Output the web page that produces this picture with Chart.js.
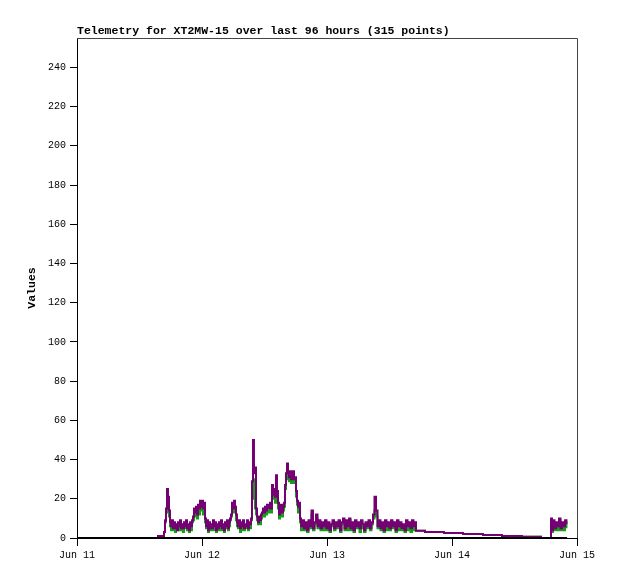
<!DOCTYPE html>
<html>
<head>
<meta charset="utf-8">
<title>Telemetry XT2MW-15</title>
<script src="https://cdn.jsdelivr.net/npm/chart.js@4.4.1/dist/chart.umd.min.js"></script>
<style>
  html, body { margin: 0; padding: 0; background: #fff; }
  #wrap { width: 618px; height: 579px; }
</style>
</head>
<body>
<div id="wrap"><canvas id="telemetry" width="618" height="579"></canvas></div>
<script>
// hours since Jun 11 00:00
const hours = [
    15.36, 16.51, 16.70, 16.90, 17.09, 17.28, 17.47, 17.66, 17.86,
    18.05, 18.24, 18.43, 18.62, 18.82, 19.01, 19.20, 19.39, 19.58, 19.78, 19.97,
    20.16, 20.35, 20.54, 20.74, 20.93, 21.12, 21.31, 21.50, 21.70, 21.89, 22.08,
    22.27, 22.46, 22.66, 22.85, 23.04, 23.23, 23.42, 23.62, 23.81, 24.00, 24.19, 24.38, 24.58,
    24.77, 24.96, 25.15, 25.34, 25.54, 25.73, 25.92, 26.11, 26.30, 26.50, 26.69, 26.88,
    27.07, 27.26, 27.46, 27.65, 27.84, 28.03, 28.22, 28.42, 28.61, 28.80, 28.99, 29.18, 29.38,
    29.57, 29.76, 29.95, 30.14, 30.34, 30.53, 30.72,
    30.91, 31.10, 31.30, 31.49, 31.68, 31.87, 32.06, 32.26, 32.45, 32.64, 32.83, 33.02, 33.22, 33.41,
    33.60, 33.79, 33.98, 34.18, 34.37, 34.56, 34.75, 34.94, 35.14, 35.33, 35.52, 35.71, 35.90,
    36.10, 36.29, 36.48, 36.67, 36.86, 37.06, 37.25, 37.44, 37.63, 37.82, 38.02, 38.21, 38.40,
    38.59, 38.78, 38.98, 39.17, 39.36, 39.55, 39.74, 39.94, 40.13, 40.32, 40.51, 40.70, 40.90,
    41.09, 41.28, 41.47, 41.66, 41.86, 42.05, 42.24, 42.43, 42.62, 42.82,
    43.01, 43.30, 43.58, 43.87, 44.16, 44.45, 44.74, 45.02, 45.31, 45.60, 45.89, 46.18, 46.46,
    46.75, 47.04, 47.33, 47.62, 47.90, 48.19, 48.48, 48.77, 49.06, 49.34, 49.63, 49.92, 50.21,
    50.50, 50.78, 51.07, 51.36, 51.65, 51.94, 52.22, 52.51, 52.80, 53.09, 53.38, 53.66, 53.95,
    54.24, 54.53, 54.82, 55.10, 55.39, 55.68, 55.97, 56.26, 56.54, 56.83, 57.12, 57.41, 57.70,
    57.98, 58.27, 58.56, 58.85, 59.14, 59.42, 59.71, 60.00, 60.29, 60.58, 60.86, 61.15, 61.44,
    61.73, 62.02, 62.30, 62.59, 62.88, 63.17, 63.46, 63.74, 64.03, 64.32, 64.61, 64.90,
    65.09, 66.82, 70.46, 74.11, 77.95, 81.60, 85.44, 89.09, 90.82,
    91.01, 91.20, 91.39, 91.68, 91.97, 92.26, 92.54, 92.83, 93.12, 93.41, 93.70, 93.98
];

const purpleValues = [
    1, 1, 3, 9, 15, 25, 21, 14, 8,
    6, 9, 5, 8, 5, 7, 4, 8, 6, 9, 5,
    7, 5, 8, 6, 9, 5, 7, 4, 8, 6, 9,
    11, 15, 13, 16, 12, 17, 15, 19, 16, 19, 15, 18, 10,
    6, 9, 4, 8, 5, 7, 5, 9, 6, 8, 4, 7,
    5, 8, 6, 9, 5, 7, 4, 8, 6, 9, 5, 8, 10,
    12, 18, 15, 19, 16, 12, 8,
    6, 9, 5, 8, 6, 9, 5, 7, 6, 9, 5, 8, 7, 10,
    29, 50, 33, 36, 15, 11, 8, 11, 9, 12, 13, 15, 13,
    16, 14, 17, 15, 16, 18, 15, 27, 22, 25, 21, 32, 24,
    18, 12, 15, 17, 13, 16, 18, 27, 33, 38, 33, 31, 34,
    30, 33, 34, 30, 31, 24, 19, 16, 18, 10,
    6, 9, 5, 8, 4, 9, 6, 14, 5, 8, 12, 6, 9,
    5, 8, 6, 9, 5, 8, 4, 7, 9, 5, 8, 6, 9,
    4, 8, 10, 5, 9, 6, 10, 5, 8, 4, 9, 6, 8,
    5, 9, 7, 4, 8, 6, 9, 5, 8, 12, 21, 14, 6,
    9, 5, 8, 4, 9, 6, 8, 5, 9, 6, 8, 4, 9,
    6, 8, 5, 7, 4, 9, 6, 8, 5, 9, 6, 8,
    3.7, 3.1, 2.5, 2.0, 1.5, 1.0, 0.7, 0, 0,
    10, 4, 9, 5, 8, 6, 10, 5, 8, 6, 9, 7
];

const greenValues = [
    1, 1, 3, 8, 13, 22, 18, 11, 6,
    4, 8, 4, 7, 3, 6, 4, 6, 4, 7, 4,
    6, 3, 6, 5, 8, 4, 5, 3, 7, 4, 8,
    9, 13, 11, 14, 10, 15, 12, 17, 14, 17, 12, 16, 8,
    5, 7, 3, 7, 4, 5, 4, 8, 4, 7, 3, 6,
    4, 7, 4, 8, 4, 6, 3, 7, 5, 7, 4, 6, 9,
    11, 16, 13, 17, 14, 9, 6,
    5, 7, 3, 7, 4, 8, 4, 6, 5, 8, 4, 7, 5, 9,
    26, 30, 20, 15, 12, 9, 7, 9, 7, 10, 11, 13, 11,
    14, 12, 14, 13, 14, 16, 13, 24, 20, 22, 18, 29, 22,
    15, 10, 13, 15, 11, 14, 16, 25, 31, 34, 30, 29, 31,
    28, 30, 32, 28, 28, 21, 17, 13, 15, 8,
    4, 8, 4, 7, 3, 7, 5, 12, 4, 7, 10, 5, 8,
    4, 7, 4, 8, 4, 6, 3, 6, 8, 4, 6, 5, 8,
    3, 7, 8, 4, 8, 4, 9, 4, 7, 3, 7, 5, 7,
    3, 8, 5, 3, 7, 5, 7, 4, 7, 10, 14, 11, 5,
    7, 4, 7, 3, 8, 4, 7, 4, 8, 5, 6, 3, 8,
    4, 7, 4, 6, 3, 8, 4, 7, 3, 8, 4, 6,
    3.7, 3.1, 2.5, 2.0, 1.5, 1.0, 0.7, 0, 0,
    8, 3, 8, 4, 6, 4, 9, 4, 7, 4, 8, 5
];

const baselineHours = [0, 94.1];
const baselineValues = [0, 0];

const xTickLabels = { 0: 'Jun 11', 24: 'Jun 12', 48: 'Jun 13', 72: 'Jun 14', 96: 'Jun 15' };
const titleText = 'Telemetry for XT2MW-15 over last 96 hours (315 points)';
const yTitleText = 'Values';

const toPoints = (xs, ys) => xs.map((x, i) => ({ x: x, y: ys[i] }));

const MONO = '"Liberation Mono", "DejaVu Sans Mono", monospace';

// gnuplot-ish frame and labels
const framePlugin = {
    id: 'frame',
    afterDraw(chart) {
        const { ctx, chartArea: a } = chart;
        ctx.save();
        ctx.strokeStyle = '#444';
        ctx.lineWidth = 1;
        ctx.beginPath();
        ctx.moveTo(a.left, a.top + 0.5);
        ctx.lineTo(a.right + 0.5, a.top + 0.5);
        ctx.lineTo(a.right + 0.5, a.bottom);
        ctx.stroke();

        ctx.fillStyle = '#000';
        ctx.font = 'bold 11.5px ' + MONO;
        ctx.textAlign = 'left';
        ctx.textBaseline = 'alphabetic';
        ctx.fillText(titleText, a.left, a.top - 4);

        ctx.translate(32, (a.top + a.bottom) / 2);
        ctx.rotate(-Math.PI / 2);
        ctx.textAlign = 'center';
        ctx.textBaseline = 'middle';
        ctx.fillText(yTitleText, 0, 0);
        ctx.restore();
    }
};

new Chart(document.getElementById('telemetry'), {
    type: 'line',
    data: {
        datasets: [
            {
                label: 'zero',
                data: toPoints(baselineHours, baselineValues),
                borderColor: '#000',
                borderWidth: 2,
                pointRadius: 0,
                order: 0
            },
            {
                label: 'max',
                data: toPoints(hours, purpleValues),
                borderColor: '#740074',
                borderWidth: 2,
                pointRadius: 0,
                stepped: 'before',
                order: 1
            },
            {
                label: 'avg',
                data: toPoints(hours, greenValues),
                borderColor: '#12a012',
                borderWidth: 2,
                pointRadius: 0,
                stepped: 'before',
                order: 2
            }
        ]
    },
    options: {
        responsive: false,
        animation: false,
        events: [],
        layout: { padding: { left: 0, right: 41, top: 38, bottom: 0 } },
        plugins: {
            legend: { display: false },
            title: { display: false },
            tooltip: { enabled: false }
        },
        scales: {
            x: {
                type: 'linear',
                min: 0,
                max: 96,
                afterFit: function (s) { s.height = 41; },
                border: { display: true, color: '#000', width: 1 },
                grid: { drawOnChartArea: false, drawTicks: true, tickLength: 8, tickColor: '#000' },
                ticks: {
                    stepSize: 24,
                    maxRotation: 0,
                    padding: 3,
                    color: '#000',
                    font: { family: MONO, size: 10 },
                    callback: function (v) { return xTickLabels[v] || ''; }
                }
            },
            y: {
                min: 0,
                max: 255,
                afterFit: function (s) { s.width = 77; },
                border: { display: true, color: '#000', width: 1 },
                grid: { drawOnChartArea: false, drawTicks: true, tickLength: 7, tickColor: '#000' },
                ticks: {
                    stepSize: 20,
                    includeBounds: false,
                    padding: 4,
                    color: '#000',
                    font: { family: MONO, size: 10 }
                }
            }
        }
    },
    plugins: [framePlugin]
});
</script>
</body>
</html>
